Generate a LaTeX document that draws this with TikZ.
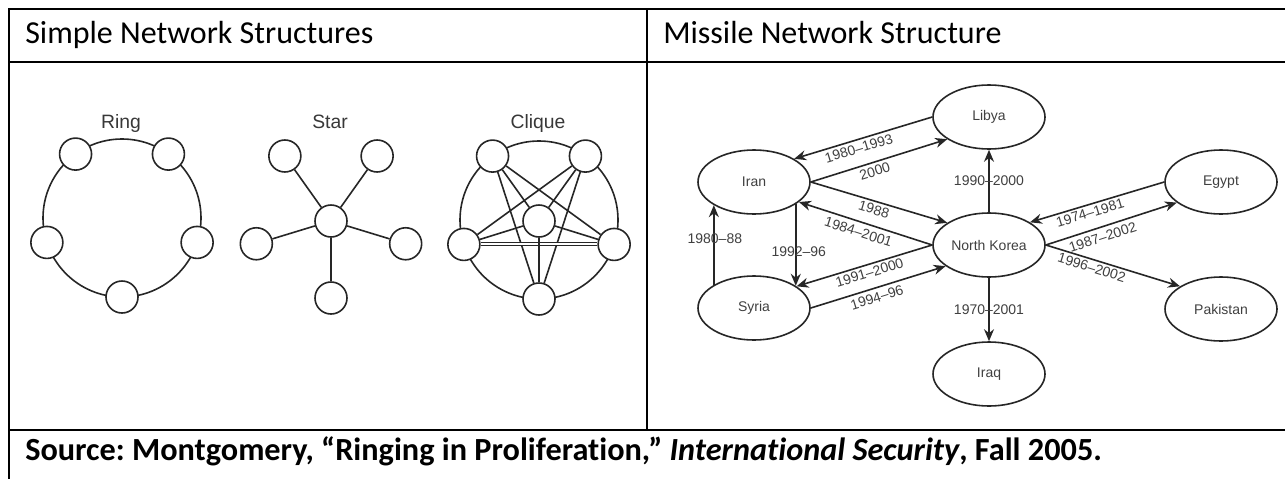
\documentclass[tikz,border=0pt]{standalone}
\usepackage{fontspec}
\setmainfont{Carlito}[Ligatures=NoCommon]
\newfontfamily\helv{Liberation Sans}
\usetikzlibrary{shapes.geometric,arrows.meta}
\frenchspacing
\tikzset{
  tbl/.style={line width=1.5pt, black},
  gline/.style={line width=1.2pt, black!85},
  pnode/.style={circle, draw=black!85, line width=1.2pt, fill=white, minimum size=24pt, inner sep=0pt},
  glabel/.style={font=\helv\fontsize{14.5}{16}\selectfont, text=black!78, inner sep=0pt},
  cnode/.style={ellipse, draw=black!85, line width=1.2pt, fill=white, minimum width=84pt, minimum height=48pt, inner sep=0pt, font=\helv\fontsize{10.5}{12}\selectfont, text=black!75},
  arr/.style={line width=1.2pt, black!85, -{Stealth[length=9pt,width=7.5pt]}},
  lbl/.style={font=\helv\fontsize{10.5}{12}\selectfont, text=black!75, inner sep=0.3pt},
  headtext/.style={anchor=base west, inner sep=0pt, font=\fontsize{24}{28}\selectfont},
}
\begin{document}
\begin{tikzpicture}[x=0.75pt,y=-0.75pt]
\useasboundingbox (0,0) rectangle (1285,479);
\fill[white] (0,0) rectangle (1285,479);
% table
\draw[tbl] (9,8) -- (9,479);
\draw[tbl] (8,9) -- (1285,9);
\draw[tbl] (8,62) -- (1285,62);
\draw[tbl] (8,430) -- (1285,430);
\draw[tbl] (647,9) -- (647,430);
\node[headtext] (h1) at (25,43) {Simple Network Structures};
\node[headtext] (h2) at (663,43) {Missile Network Structure};
\node[anchor=base west, inner sep=0pt, font=\bfseries\fontsize{24.2}{28}\selectfont] (src) at (25,460)
  {Source: Montgomery, “Ringing in Proliferation,” \textit{International Security}, Fall 2005.};
% Ring
\node[glabel, anchor=base] (tring) at (121,128) {Ring};
\begin{scope}[shift={(122,218)}]
  \draw[gline] (0,0) circle[radius=59.25pt];
  \node[pnode] (rB) at (90:79) {};
  \node[pnode] (rR) at (18:79) {};
  \node[pnode] (rTR) at (-54:79) {};
  \node[pnode] (rTL) at (234:79) {};
  \node[pnode] (rL) at (162:79) {};
\end{scope}
% Star
\node[glabel, anchor=base] (tstar) at (330,128) {Star};
\begin{scope}[shift={(331,219.5)}]
  \node[pnode] (sC) at (0,1.5) {};
  \node[pnode] (sB) at (90:78.5) {};
  \node[pnode] (sR) at (18:78.5) {};
  \node[pnode] (sTR) at (-54:78.5) {};
  \node[pnode] (sTL) at (234:78.5) {};
  \node[pnode] (sL) at (162:78.5) {};
\end{scope}
\foreach \n in {sB,sR,sTR,sTL,sL} \draw[gline] (sC) -- (\n);
% Clique
\node[glabel, anchor=base] (tclique) at (538,128) {Clique};
\begin{scope}[shift={(539,220)}]
  \draw[gline] (0,0) circle[radius=59.25pt];
  \node[pnode] (cC) at (0,1) {};
  \node[pnode] (cB) at (90:79) {};
  \node[pnode] (cR) at (18:79) {};
  \node[pnode] (cTR) at (-54:79) {};
  \node[pnode] (cTL) at (234:79) {};
  \node[pnode] (cL) at (162:79) {};
\end{scope}
\draw[gline] (cTL) -- (cR);
\draw[gline] (cTL) -- (cB);
\draw[gline] (cTR) -- (cL);
\draw[gline] (cTR) -- (cB);
\draw[black!85, line width=0.8pt, double=white, double distance=1.4pt] (cL) -- (cR);
\foreach \n in {cB,cR,cTR,cTL,cL} \draw[gline] (cC) -- (\n);
% Missile network
\node[cnode] (libya) at (989,117) {Libya};
\node[cnode] (iran) at (754,182) {Iran};
\node[cnode] (egypt) at (1221,182) {Egypt};
\node[cnode] (nk) at (989,245) {North Korea};
\node[cnode] (syria) at (754,308) {Syria};
\node[cnode] (pakistan) at (1221,309) {Pakistan};
\node[cnode] (iraq) at (989,374) {Iraq};
\draw[arr] (libya.west) -- (iran.30) node[lbl, sloped, below=2pt, pos=0.55] {1980–1993};
\draw[arr] (iran.east) -- (libya.208) node[lbl, sloped, below=2pt, pos=0.45] {2000};
\draw[arr] (iran.east) -- (nk.152) node[lbl, sloped, below=1.5pt, pos=0.48] {1988};
\draw[arr] (nk.west) -- (iran.336) node[lbl, sloped, below=3pt, pos=0.53] {1984–2001};
\draw[arr] (nk.west) -- (syria.27) node[lbl, sloped, below=1.5pt, pos=0.48] {1991–2000};
\draw[arr] (syria.east) -- (nk.206) node[lbl, sloped, below=2.5pt, pos=0.47] {1994–96};
\draw[arr] (syria.150) -- (iran.210) node[lbl, pos=0.575, xshift=0.75pt] {1980–88};
\draw[arr] (iran.332) -- (syria.28) node[lbl, pos=0.585, xshift=2.25pt] {1992–96};
\draw[arr] (nk.north) -- (libya.south) node[lbl, pos=0.5] {1990–2000};
\draw[arr] (nk.south) -- (iraq.north) node[lbl, pos=0.51] {1970–2001};
\draw[arr] (egypt.west) -- (nk.29) node[lbl, sloped, below=1.5pt, pos=0.57] {1974–1981};
\draw[arr] (nk.east) -- (egypt.205) node[lbl, sloped, below=3pt, pos=0.41] {1987–2002};
\draw[arr] (nk.east) -- (pakistan.151) node[lbl, sloped, below=1.5pt, pos=0.36] {1996–2002};
\end{tikzpicture}
\end{document}
